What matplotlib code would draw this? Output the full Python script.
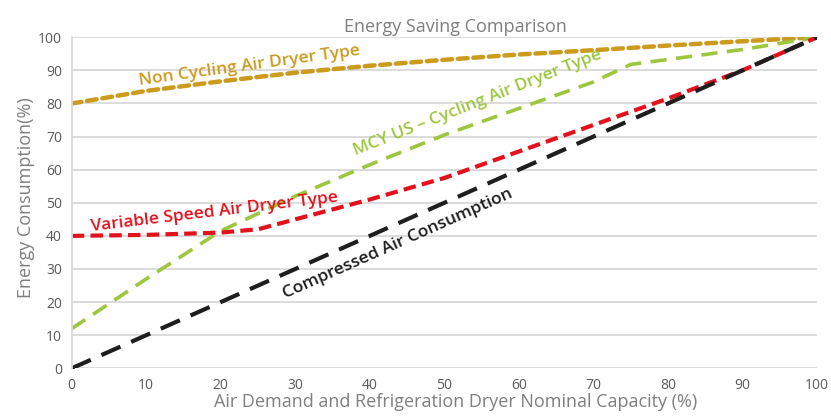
import numpy as np
import matplotlib.pyplot as plt

plt.rcParams['font.family'] = ['Open Sans', 'DejaVu Sans']

# air demand / dryer nominal capacity (%)
capacity = [0, 10, 20, 30, 40, 50, 60, 70, 80, 90, 100]

non_cycling = [80, 83.8, 86.7, 89.3, 91.4, 93.2, 94.8, 96.1, 97.5, 98.8, 100]

mcy_x = [0, 10, 20, 30, 40, 50, 60, 70, 75, 80, 90, 100]
mcy_cycling = [12, 27, 41.5, 52, 61.5, 70.5, 78.5, 86.5, 91.8, 93.3, 96.3, 100]

vsd_x = [0, 10, 20, 25, 30, 40, 50, 60, 70, 80, 90, 100]
variable_speed = [40, 40.3, 41, 42, 45, 51, 57.5, 65.5, 73.5, 81.5, 90, 100]

compressed_air = [0, 10, 20, 30, 40, 50, 60, 70, 80, 90, 100]

gold = '#CC9A1C'
green = '#9DC63E'
red = '#E3111B'
black = '#1E1E1E'
grey = '#7F7F7F'

fig = plt.figure(figsize=(8.31, 4.17), dpi=100)
ax = fig.add_axes([0.0863, 0.1168, 0.8968, 0.7938])

ax.plot(capacity, non_cycling, color=gold, lw=3.2, dashes=(2.2, 1.3), dash_capstyle='round')
ax.plot(mcy_x, mcy_cycling, color=green, lw=2.6, dashes=(4.5, 2.6))
ax.plot(vsd_x, variable_speed, color=red, lw=3.0, dashes=(3.0, 1.5))
ax.plot(capacity, compressed_air, color=black, lw=3.0, dashes=(5.0, 2.8))
ax.plot([0], [0], 'o', color=black, ms=2.5)

# line labels
ax.text(23.8, 91.3, 'Non Cycling Air Dryer Type', color=gold, fontsize=12.5,
        fontweight='semibold', rotation=7.8, ha='center', va='center')
ax.text(54.5, 80.2, 'MCY US – Cycling Air Dryer Type', color=green, fontsize=12.5,
        fontweight='semibold', rotation=21.5, ha='center', va='center')
ax.text(19.2, 47.2, 'Variable Speed Air Dryer Type', color=red, fontsize=12.5,
        fontweight='semibold', rotation=6.8, ha='center', va='center')
ax.text(43.8, 37.6, 'Compressed Air Consumption', color=black, fontsize=12.5,
        fontweight='semibold', rotation=24, ha='center', va='center')

ax.set_xlim(0, 100)
ax.set_ylim(0, 100)
ax.set_xticks(np.arange(0, 101, 10))
ax.set_yticks(np.arange(0, 101, 10))
ax.tick_params(length=0, colors='#595959', labelsize=10, pad=7)
ax.grid(axis='y', color='#D9D9D9', lw=1.3)
ax.set_axisbelow(True)
for side in ['top', 'right', 'bottom']:
    ax.spines[side].set_visible(False)
ax.spines['left'].set_color('#D9D9D9')
ax.spines['left'].set_linewidth(1.3)

ax.set_title('Energy Saving Comparison', color=grey, fontsize=13, pad=4, x=0.515)
ax.set_xlabel('Air Demand and Refrigeration Dryer Nominal Capacity (%)', color=grey,
              fontsize=13, labelpad=0, x=0.515)
ax.set_ylabel('Energy Consumption(%)', color=grey, fontsize=13, labelpad=2, y=0.515)

fig.savefig('out.png', dpi=100)
